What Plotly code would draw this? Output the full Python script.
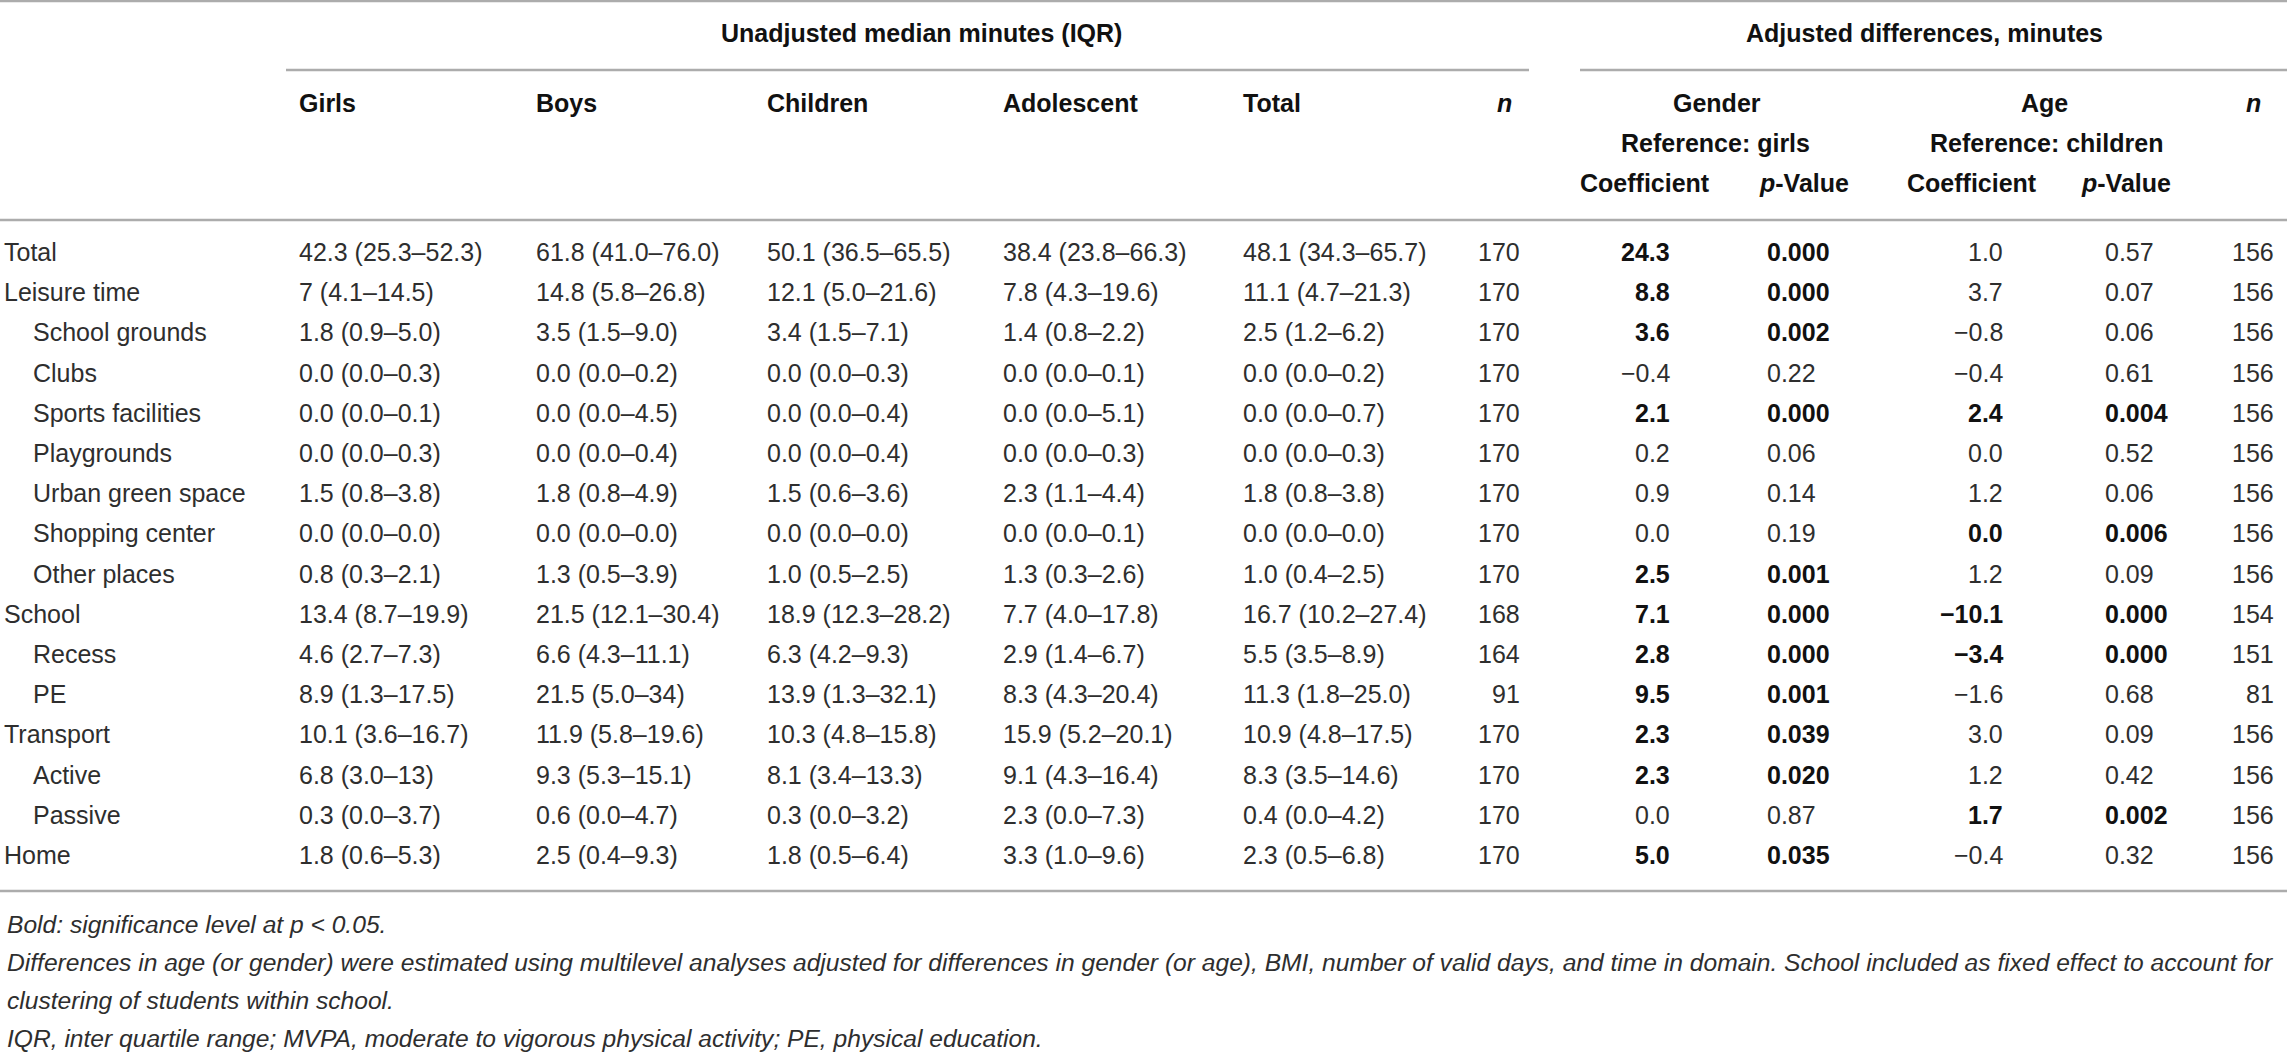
import plotly.graph_objects as go

# ---- table data ----
domains = ["Total", "Leisure time", "School grounds", "Clubs", "Sports facilities",
           "Playgrounds", "Urban green space", "Shopping center", "Other places",
           "School", "Recess", "PE", "Transport", "Active", "Passive", "Home"]
indented = [0, 0, 1, 1, 1, 1, 1, 1, 1, 0, 1, 1, 0, 1, 1, 0]

girls = ["42.3 (25.3–52.3)", "7 (4.1–14.5)", "1.8 (0.9–5.0)", "0.0 (0.0–0.3)",
         "0.0 (0.0–0.1)", "0.0 (0.0–0.3)", "1.5 (0.8–3.8)", "0.0 (0.0–0.0)",
         "0.8 (0.3–2.1)", "13.4 (8.7–19.9)", "4.6 (2.7–7.3)", "8.9 (1.3–17.5)",
         "10.1 (3.6–16.7)", "6.8 (3.0–13)", "0.3 (0.0–3.7)", "1.8 (0.6–5.3)"]
boys = ["61.8 (41.0–76.0)", "14.8 (5.8–26.8)", "3.5 (1.5–9.0)", "0.0 (0.0–0.2)",
        "0.0 (0.0–4.5)", "0.0 (0.0–0.4)", "1.8 (0.8–4.9)", "0.0 (0.0–0.0)",
        "1.3 (0.5–3.9)", "21.5 (12.1–30.4)", "6.6 (4.3–11.1)", "21.5 (5.0–34)",
        "11.9 (5.8–19.6)", "9.3 (5.3–15.1)", "0.6 (0.0–4.7)", "2.5 (0.4–9.3)"]
children = ["50.1 (36.5–65.5)", "12.1 (5.0–21.6)", "3.4 (1.5–7.1)", "0.0 (0.0–0.3)",
            "0.0 (0.0–0.4)", "0.0 (0.0–0.4)", "1.5 (0.6–3.6)", "0.0 (0.0–0.0)",
            "1.0 (0.5–2.5)", "18.9 (12.3–28.2)", "6.3 (4.2–9.3)", "13.9 (1.3–32.1)",
            "10.3 (4.8–15.8)", "8.1 (3.4–13.3)", "0.3 (0.0–3.2)", "1.8 (0.5–6.4)"]
adolescent = ["38.4 (23.8–66.3)", "7.8 (4.3–19.6)", "1.4 (0.8–2.2)", "0.0 (0.0–0.1)",
              "0.0 (0.0–5.1)", "0.0 (0.0–0.3)", "2.3 (1.1–4.4)", "0.0 (0.0–0.1)",
              "1.3 (0.3–2.6)", "7.7 (4.0–17.8)", "2.9 (1.4–6.7)", "8.3 (4.3–20.4)",
              "15.9 (5.2–20.1)", "9.1 (4.3–16.4)", "2.3 (0.0–7.3)", "3.3 (1.0–9.6)"]
total = ["48.1 (34.3–65.7)", "11.1 (4.7–21.3)", "2.5 (1.2–6.2)", "0.0 (0.0–0.2)",
         "0.0 (0.0–0.7)", "0.0 (0.0–0.3)", "1.8 (0.8–3.8)", "0.0 (0.0–0.0)",
         "1.0 (0.4–2.5)", "16.7 (10.2–27.4)", "5.5 (3.5–8.9)", "11.3 (1.8–25.0)",
         "10.9 (4.8–17.5)", "8.3 (3.5–14.6)", "0.4 (0.0–4.2)", "2.3 (0.5–6.8)"]
n_unadj = [170, 170, 170, 170, 170, 170, 170, 170, 170, 168, 164, 91, 170, 170, 170, 170]

gender_coef = ["24.3", "8.8", "3.6", "−0.4", "2.1", "0.2", "0.9", "0.0", "2.5",
               "7.1", "2.8", "9.5", "2.3", "2.3", "0.0", "5.0"]
gender_p = ["0.000", "0.000", "0.002", "0.22", "0.000", "0.06", "0.14", "0.19", "0.001",
            "0.000", "0.000", "0.001", "0.039", "0.020", "0.87", "0.035"]
gender_sig = [1, 1, 1, 0, 1, 0, 0, 0, 1, 1, 1, 1, 1, 1, 0, 1]
age_coef = ["1.0", "3.7", "−0.8", "−0.4", "2.4", "0.0", "1.2", "0.0", "1.2",
            "−10.1", "−3.4", "−1.6", "3.0", "1.2", "1.7", "−0.4"]
age_p = ["0.57", "0.07", "0.06", "0.61", "0.004", "0.52", "0.06", "0.006", "0.09",
         "0.000", "0.000", "0.68", "0.09", "0.42", "0.002", "0.32"]
age_sig = [0, 0, 0, 0, 1, 0, 0, 1, 0, 1, 1, 0, 0, 0, 1, 0]
n_adj = [156, 156, 156, 156, 156, 156, 156, 156, 156, 154, 151, 81, 156, 156, 156, 156]

notes = [
    "Bold: significance level at p < 0.05.",
    "Differences in age (or gender) were estimated using multilevel analyses adjusted for differences in gender "
    "(or age), BMI, number of valid days, and time in domain. School included as fixed effect to account for",
    "clustering of students within school.",
    "IQR, inter quartile range; MVPA, moderate to vigorous physical activity; PE, physical education.",
]

# ---- layout constants (pixel space) ----
W, H = 2287, 1054
FONT = "Liberation Sans, Arial, Helvetica, sans-serif"
TXT = "#2e2e2e"
BOLD = "#111111"
FS = 25
ROW0, ROWSTEP = 252, 40.2
RULE = "#acacac"

ann = []


def put(x, y, text, anchor="left", size=FS, color=TXT):
    ann.append(dict(x=x, y=y, xref="x", yref="y", text=text, showarrow=False,
                    xanchor=anchor, yanchor="middle", borderpad=0,
                    font=dict(family=FONT, size=size, color=color)))


def cell(x, y, s, sig, anchor):
    if sig:
        put(x, y, f"<b>{s}</b>", anchor, color=BOLD)
    else:
        put(x, y, s, anchor)


def head(x, y, s, anchor="left"):
    put(x, y, f"<b>{s}</b>", anchor, color=BOLD)


# group titles
head(921, 33, "Unadjusted median minutes (IQR)", "center")
head(1924, 33, "Adjusted differences, minutes", "center")

# column headers
for x, lab in [(298, "Girls"), (535, "Boys"), (766, "Children"), (1002, "Adolescent"), (1242, "Total")]:
    head(x, 103, lab)
head(1513, 103, "<i>n</i>", "right")
head(1717, 103, "Gender", "center")
head(2044, 103, "Age", "center")
head(2262, 103, "<i>n</i>", "right")
head(1715, 143, "Reference: girls", "center")
head(2046, 143, "Reference: children", "center")
head(1645, 183, "Coefficient", "center")
head(1804, 183, "<i>p</i>-Value", "center")
head(1972, 183, "Coefficient", "center")
head(2126, 183, "<i>p</i>-Value", "center")

# body rows
for i, lab in enumerate(domains):
    y = ROW0 + i * ROWSTEP
    put(32 if indented[i] else 3, y, lab)
    for x, col in [(298, girls), (535, boys), (766, children), (1002, adolescent), (1242, total)]:
        put(x, y, col[i])
    put(1521, y, str(n_unadj[i]), "right")
    cell(1671, y, gender_coef[i], gender_sig[i], "right")
    cell(1766, y, gender_p[i], gender_sig[i], "left")
    cell(2004, y, age_coef[i], age_sig[i], "right")
    cell(2104, y, age_p[i], age_sig[i], "left")
    put(2275, y, str(n_adj[i]), "right")

# footnotes
for k, line in enumerate(notes):
    put(6, 924 + k * 38.3, f"<i>{line}</i>", size=24.6)

# horizontal rules
rules = [(0, W, 1), (286, 1529, 70), (1580, W, 70), (0, W, 220), (0, W, 891)]
shapes = [dict(type="line", xref="x", yref="y", x0=x0, x1=x1, y0=y, y1=y,
               line=dict(color=RULE, width=2.5)) for x0, x1, y in rules]

fig = go.Figure()
fig.update_layout(
    width=W, height=H, margin=dict(l=0, r=0, t=0, b=0),
    paper_bgcolor="white", plot_bgcolor="white",
    xaxis=dict(range=[0, W], visible=False, fixedrange=True),
    yaxis=dict(range=[H, 0], visible=False, fixedrange=True),
    annotations=ann, shapes=shapes, showlegend=False,
)
fig.write_html("out.html", config={"displayModeBar": False},
               post_script="document.body.style.margin='0';document.body.style.overflow='hidden';")
